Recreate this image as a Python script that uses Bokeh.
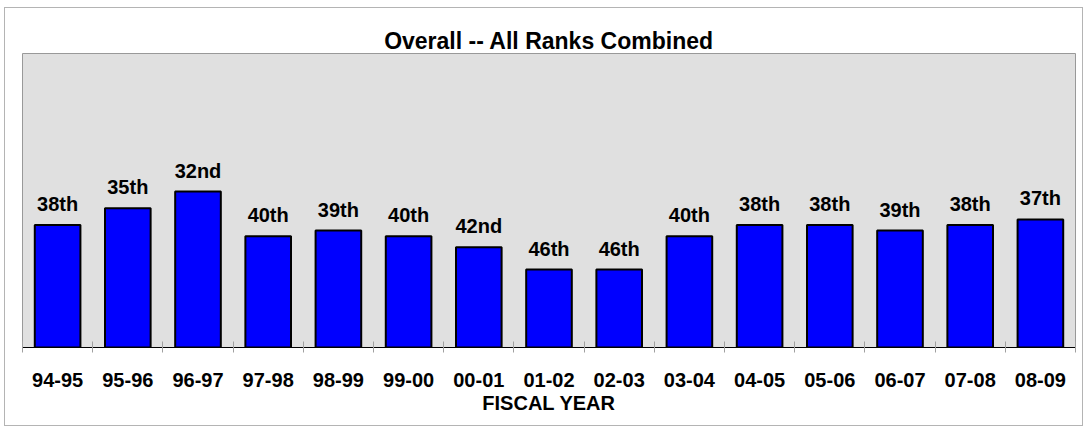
import numpy as np
from bokeh.plotting import figure
from bokeh.models import ColumnDataSource, Range1d, FixedTicker, LabelSet, Title
from bokeh.core.properties import value
from bokeh.embed import file_html
from bokeh.resources import INLINE

# ---- data ----
years = ["94-95", "95-96", "96-97", "97-98", "98-99", "99-00", "00-01", "01-02",
         "02-03", "03-04", "04-05", "05-06", "06-07", "07-08", "08-09"]
ranks = [38, 35, 32, 40, 39, 40, 42, 46, 46, 40, 38, 38, 39, 38, 37]
rank_labels = ["38th", "35th", "32nd", "40th", "39th", "40th", "42nd", "46th",
               "46th", "40th", "38th", "38th", "39th", "38th", "37th"]
BASE_RANK = 60  # bars are drawn as (BASE_RANK - rank): a better rank gives a taller bar

FONT = "Liberation Sans"

xpos = np.arange(len(years)) + 0.5
heights = [BASE_RANK - r for r in ranks]
src = ColumnDataSource(dict(x=xpos, h=heights, lab=rank_labels))

p = figure(width=1079, height=419, output_backend="svg", toolbar_location=None,
           x_range=Range1d(0, len(years)), y_range=Range1d(0, 52.8),
           y_axis_location=None, x_axis_location="below",
           min_border_left=17, min_border_right=9, min_border_top=45,
           min_border_bottom=80)
p.styles = {"border": "1px solid #b4b4b4", "margin-left": "4px", "margin-top": "7px"}

p.title = Title(text="Overall -- All Ranks Combined", align="center",
                text_font=FONT, text_font_size="23px", text_font_style="bold",
                text_color="#000000", standoff=0)

p.background_fill_color = "#e0e0e0"
p.border_fill_color = "#ffffff"
p.outline_line_color = "#999999"
p.outline_line_width = 1
p.xgrid.grid_line_color = None
p.ygrid.grid_line_color = None

p.vbar(x="x", top="h", bottom=0, width=0.65, source=src,
       fill_color="#0000ff", line_color="#000000", line_width=2)

labels = LabelSet(x="x", y="h", text="lab", source=src, y_offset=14,
                  text_align="center", text_baseline="alphabetic",
                  text_font=value(FONT), text_font_size=value("20px"),
                  text_font_style="bold", text_color="#000000")
p.add_layout(labels)

ax = p.xaxis[0]
ax.ticker = FixedTicker(ticks=list(xpos), minor_ticks=list(range(len(years) + 1)))
ax.major_label_overrides = {float(x): y for x, y in zip(xpos, years)}
ax.major_tick_line_color = None
ax.major_tick_in = 0
ax.major_tick_out = 0
ax.minor_tick_line_color = "#a0a0a0"
ax.minor_tick_in = 6
ax.minor_tick_out = 5
ax.axis_line_color = "#000000"
ax.axis_line_width = 1
ax.major_label_standoff = 20
ax.major_label_text_font = FONT
ax.major_label_text_font_size = "20px"
ax.major_label_text_font_style = "bold"
ax.major_label_text_color = "#000000"
ax.axis_label = "FISCAL YEAR"
ax.axis_label_standoff = 2
ax.axis_label_text_font = FONT
ax.axis_label_text_font_size = "20px"
ax.axis_label_text_font_style = "bold"
ax.axis_label_text_color = "#000000"

open("out.html", "w").write(file_html(p, INLINE))
